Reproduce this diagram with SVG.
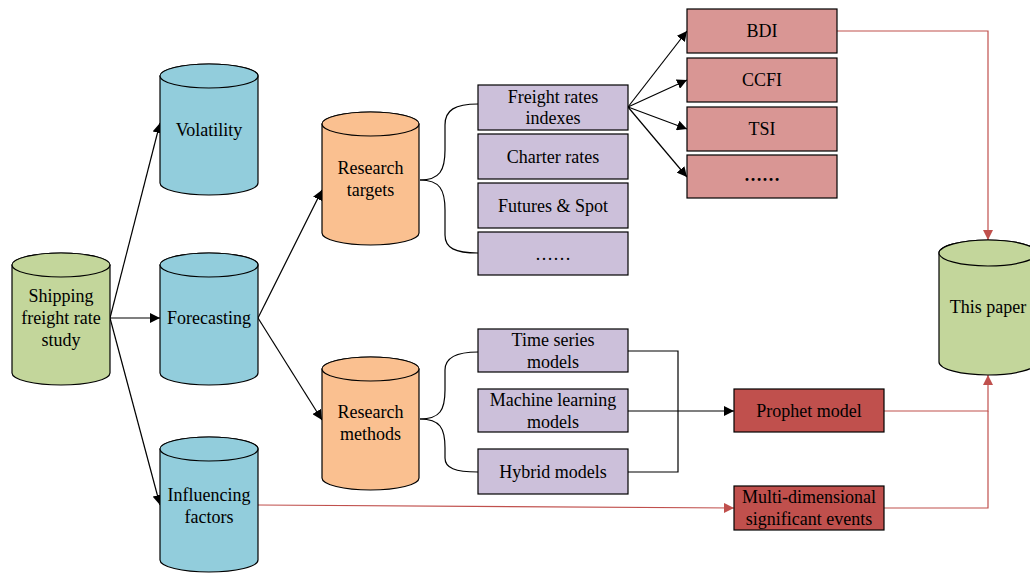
<svg xmlns="http://www.w3.org/2000/svg" width="1030" height="573" viewBox="0 0 1030 573">
<defs>
<style>
text{font-family:"Liberation Serif","Times New Roman",serif;font-size:18px;fill:#000;text-anchor:middle;dominant-baseline:central}
.cyl{stroke:#000;stroke-width:1.2}
.g{fill:#c3d69b}.b{fill:#92cddc}.o{fill:#fac090}.p{fill:#ccc0da}.k{fill:#d99694}.r{fill:#c0504d}
.box{stroke:#000;stroke-width:1.2}
.ln{fill:none;stroke:#000;stroke-width:1.2}
.rl{fill:none;stroke:#c0504d;stroke-width:1.2}
</style>
<marker id="ab" viewBox="0 0 10 10" refX="10" refY="5" markerWidth="10" markerHeight="10" markerUnits="userSpaceOnUse" orient="auto"><path d="M0,0L10,5L0,10z" fill="#000"/></marker>
<marker id="ar" viewBox="0 0 10 10" refX="10" refY="5" markerWidth="10" markerHeight="10" markerUnits="userSpaceOnUse" orient="auto"><path d="M0,0L10,5L0,10z" fill="#c0504d"/></marker>
</defs>
<g id="connectors">
<path class="ln" d="M110,318L160,123" marker-end="url(#ab)"/>
<path class="ln" d="M110,318L160,318" marker-end="url(#ab)"/>
<path class="ln" d="M110,318L160,505" marker-end="url(#ab)"/>
<path class="ln" d="M258,318L322,190" marker-end="url(#ab)"/>
<path class="ln" d="M258,318L322,420" marker-end="url(#ab)"/>
<path class="ln" d="M420,180C440,180 445,170 445,150L445,125C445,110 455,104 478,104"/>
<path class="ln" d="M420,180C440,180 445,190 445,210L445,235C445,248 455,253 478,253"/>
<path class="ln" d="M420,419C440,419 445,410 445,390L445,370C445,358 455,352 478,352"/>
<path class="ln" d="M420,419C440,419 445,428 445,448L445,458C445,468 455,472 478,472"/>
<path class="ln" d="M628,107L687,31" marker-end="url(#ab)"/>
<path class="ln" d="M628,107L687,80" marker-end="url(#ab)"/>
<path class="ln" d="M628,107L687,129" marker-end="url(#ab)"/>
<path class="ln" d="M628,107L687,177" marker-end="url(#ab)"/>
<path class="ln" d="M628,351H678V472H628"/>
<path class="ln" d="M628,411H734" marker-end="url(#ab)"/>
<path class="rl" d="M258,505L734,508" marker-end="url(#ar)"/>
<path class="rl" d="M837,31H988V240" marker-end="url(#ar)"/>
<path class="rl" d="M884,411H988V375" marker-end="url(#ar)"/>
<path class="rl" d="M884,508H988V411"/>
</g>
<g id="shipping">
<path class="cyl g" d="M12,265V373A49,12 0 0 0 110,373V265A49,12 0 0 0 12,265Z"/>
<ellipse class="cyl g" cx="61" cy="265" rx="49" ry="12"/>
<text x="61" y="296">Shipping</text><text x="61" y="318">freight rate</text><text x="61" y="340">study</text>
</g>
<g id="volatility">
<path class="cyl b" d="M160,76V183A49,12 0 0 0 258,183V76A49,12 0 0 0 160,76Z"/>
<ellipse class="cyl b" cx="209" cy="76" rx="49" ry="12"/>
<text x="209" y="130">Volatility</text>
</g>
<g id="forecasting">
<path class="cyl b" d="M160,265V373A49,12 0 0 0 258,373V265A49,12 0 0 0 160,265Z"/>
<ellipse class="cyl b" cx="209" cy="265" rx="49" ry="12"/>
<text x="209" y="318">Forecasting</text>
</g>
<g id="influencing">
<path class="cyl b" d="M160,449V560A49,12 0 0 0 258,560V449A49,12 0 0 0 160,449Z"/>
<ellipse class="cyl b" cx="209" cy="449" rx="49" ry="12"/>
<text x="209" y="495">Influencing</text><text x="209" y="517">factors</text>
</g>
<g id="targets">
<path class="cyl o" d="M322,124V233A48.5,12 0 0 0 419,233V124A48.5,12 0 0 0 322,124Z"/>
<ellipse class="cyl o" cx="370.5" cy="124" rx="48.5" ry="12"/>
<text x="370.5" y="168">Research</text><text x="370.5" y="190">targets</text>
</g>
<g id="methods">
<path class="cyl o" d="M322,369V478A48.5,12 0 0 0 419,478V369A48.5,12 0 0 0 322,369Z"/>
<ellipse class="cyl o" cx="370.5" cy="369" rx="48.5" ry="12"/>
<text x="370.5" y="412">Research</text><text x="370.5" y="434">methods</text>
</g>
<g id="thispaper">
<path class="cyl g" d="M939,253V362A49,13 0 0 0 1037,362V253A49,13 0 0 0 939,253Z"/>
<ellipse class="cyl g" cx="988" cy="253" rx="49" ry="13"/>
<text x="988" y="307">This paper</text>
</g>
<g id="freight"><rect class="box p" x="478" y="85" width="150" height="45"/><text x="553" y="97">Freight rates</text><text x="553" y="118">indexes</text></g>
<g id="charter"><rect class="box p" x="478" y="134" width="150" height="45"/><text x="553" y="157">Charter rates</text></g>
<g id="futures"><rect class="box p" x="478" y="183" width="150" height="45"/><text x="553" y="206">Futures &amp; Spot</text></g>
<g id="tdots"><rect class="box p" x="478" y="232" width="150" height="43"/><text x="553" y="254">……</text></g>
<g id="timeseries"><rect class="box p" x="478" y="329" width="150" height="43"/><text x="553" y="340">Time series</text><text x="553" y="362">models</text></g>
<g id="ml"><rect class="box p" x="478" y="389" width="150" height="43"/><text x="553" y="400">Machine learning</text><text x="553" y="422">models</text></g>
<g id="hybrid"><rect class="box p" x="478" y="449" width="150" height="45"/><text x="553" y="472">Hybrid models</text></g>
<g id="bdi"><rect class="box k" x="687" y="9" width="150" height="44"/><text x="762" y="31">BDI</text></g>
<g id="ccfi"><rect class="box k" x="687" y="58" width="150" height="44"/><text x="762" y="80">CCFI</text></g>
<g id="tsi"><rect class="box k" x="687" y="107" width="150" height="44"/><text x="762" y="129">TSI</text></g>
<g id="idots"><rect class="box k" x="687" y="155" width="150" height="43"/><text x="762" y="175" style="font-weight:bold">……</text></g>
<g id="prophet"><rect class="box r" x="734" y="389" width="150" height="43"/><text x="809" y="411">Prophet model</text></g>
<g id="events"><rect class="box r" x="734" y="486" width="150" height="44"/><text x="809" y="497">Multi-dimensional</text><text x="809" y="519">significant events</text></g>
</svg>
